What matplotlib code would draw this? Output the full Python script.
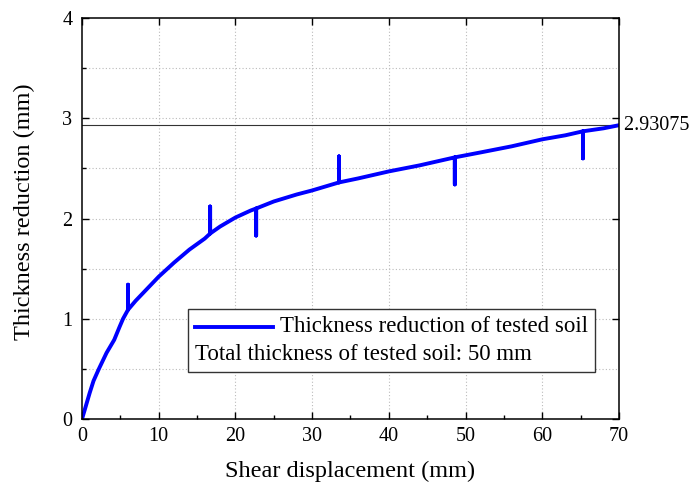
import numpy as np
import matplotlib

matplotlib.use("Agg")
import matplotlib.pyplot as plt
from matplotlib.ticker import MultipleLocator
from matplotlib.lines import Line2D
from matplotlib.offsetbox import (AnchoredOffsetbox, DrawingArea, HPacker,
                                  TextArea, VPacker)

# ---- data ----
shear_disp = [0, 0.35, 1, 1.5, 2.2, 3.2, 4.2, 4.9, 5.35, 6.0, 7, 8, 9,
              10, 12, 14, 16, 16.7, 18, 20, 22, 22.7, 25, 28, 30, 33.5, 36, 40,
              44, 48.6, 52, 56, 60, 63, 65.3, 68, 70]
thick_red = [0, 0.09, 0.26, 0.38, 0.50, 0.66, 0.79, 0.92, 1.00, 1.09, 1.18,
             1.26, 1.34, 1.42, 1.56, 1.69, 1.80, 1.85, 1.92, 2.01, 2.08, 2.10,
             2.17, 2.24, 2.28, 2.36, 2.40, 2.47, 2.53, 2.61, 2.66, 2.72, 2.79,
             2.83, 2.87, 2.90, 2.93075]
# vertical glitches in the record (x position, spike tip value)
spike_x = [6.0, 16.7, 22.7, 33.5, 48.6, 65.3]
spike_tip = [1.34, 2.12, 1.83, 2.62, 2.34, 2.60]

final_value = 2.93075
legend_label = "Thickness reduction of tested soil"
note_label = "Total thickness of tested soil: 50 mm"

plt.rcParams.update({
    "font.family": ["Liberation Serif", "DejaVu Serif"],
    "font.size": 14.5,
    "axes.linewidth": 1.1,
})

# build the plotted path with spikes inserted
xs, ys = [], []
for x, y in zip(shear_disp, thick_red):
    xs.append(x)
    ys.append(y)
    if x in spike_x:
        tip = spike_tip[spike_x.index(x)]
        xs += [x, x]
        ys += [tip, y]

fig = plt.figure(figsize=(6.92, 4.87), dpi=100)
ax = fig.add_axes([0.1185, 0.1396, 0.7760, 0.8234])

line, = ax.plot(xs, ys, color="#0000ff", lw=2.8, solid_joinstyle="round")
ax.axhline(final_value, color="#333333", lw=0.8, zorder=1)
ax.text(70, final_value, " 2.93075", va="center", ha="left", fontsize=14.5,
        clip_on=False)

ax.set_xlim(0, 70)
ax.set_ylim(0, 4)
ax.xaxis.set_major_locator(MultipleLocator(10))
ax.xaxis.set_minor_locator(MultipleLocator(5))
ax.yaxis.set_major_locator(MultipleLocator(1))
ax.yaxis.set_minor_locator(MultipleLocator(0.5))

ax.tick_params(which="both", direction="in", width=1.0)
ax.tick_params(which="major", length=5, top=True, right=True)
ax.tick_params(which="minor", length=3, bottom=True, left=True)
ax.tick_params(axis="x", pad=6)
ax.tick_params(axis="y", pad=7)

# dotted grid: x at majors, y at every 0.5
for gx in np.arange(10, 70, 10):
    ax.axvline(gx, color="#bbbbbb", lw=0.8, ls=(0, (1, 2)), zorder=0)
for gy in np.arange(0.5, 4, 0.5):
    ax.axhline(gy, color="#bbbbbb", lw=0.8, ls=(0, (1, 2)), zorder=0)

ax.set_xlabel("Shear displacement (mm)", fontsize=17.5)
ax.set_ylabel("Thickness reduction (mm)", fontsize=17.5)
ax.xaxis.set_label_coords(0.499, -0.105)
ax.yaxis.set_label_coords(-0.088, 0.516)

# legend box: line entry + plain note line
da = DrawingArea(56, 12, 0, 0)
da.add_artist(Line2D([0, 56], [6, 6], color="#0000ff", lw=2.8))
row1 = HPacker(children=[da, TextArea(legend_label, textprops=dict(fontsize=16.5))],
               align="center", pad=0, sep=5)
row2 = TextArea(note_label, textprops=dict(fontsize=16.5))
box = VPacker(children=[row1, row2], align="left", pad=0, sep=5)
anch = AnchoredOffsetbox(loc="lower left", child=box, pad=0.3, borderpad=0,
                         frameon=True, bbox_to_anchor=(0.197, 0.117),
                         bbox_transform=ax.transAxes, prop=dict(size=17))
anch.patch.set_boxstyle("square", pad=0)
anch.patch.set_edgecolor("#333333")
anch.patch.set_linewidth(1.0)
ax.add_artist(anch)

fig.savefig("out.png", dpi=100)
